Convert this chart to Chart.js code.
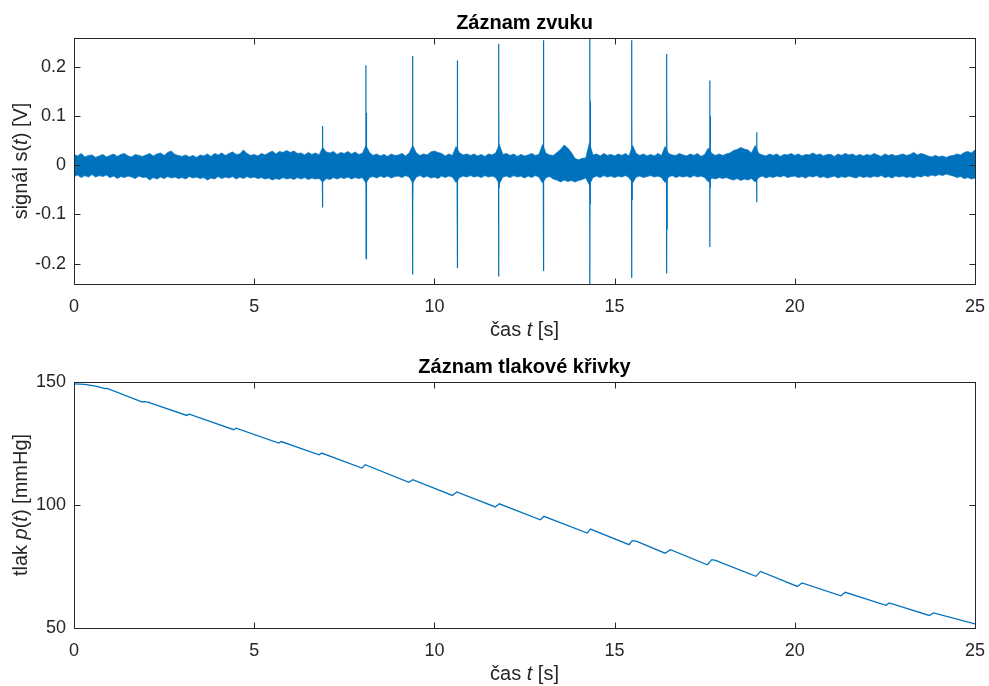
<!DOCTYPE html>
<html>
<head>
<meta charset="utf-8">
<script src="https://cdn.jsdelivr.net/npm/chart.js@4.4.0/dist/chart.umd.min.js"></script>
<style>
    body { margin: 0; background: #fff; }
    .panel { position: absolute; left: 0; width: 989px; height: 343px; }
</style>
</head>
<body>
<div class="panel" style="top:0"><canvas id="soundChart" width="989" height="343"></canvas></div>
<div class="panel" style="top:343px"><canvas id="pressChart" width="989" height="343"></canvas></div>
<script>
//-----------------------------------------------------
// Data (time in s)
//-----------------------------------------------------

// noise band of the sound signal, sampled every 0.1 s from 0 to 25 s [V]
const envStep = 0.1;
const noiseUpper = [
    0.022,0.019,0.024,0.017,0.020,0.021,0.016,0.019,0.022,0.017,
    0.020,0.023,0.018,0.022,0.024,0.019,0.017,0.022,0.020,0.018,
    0.021,0.024,0.019,0.023,0.025,0.020,0.026,0.029,0.022,0.020,
    0.018,0.021,0.017,0.020,0.016,0.021,0.019,0.023,0.018,0.024,
    0.021,0.025,0.020,0.024,0.027,0.022,0.023,0.031,0.024,0.020,
    0.022,0.019,0.024,0.021,0.025,0.029,0.023,0.028,0.026,0.030,
    0.026,0.029,0.024,0.025,0.021,0.026,0.022,0.025,0.021,0.036,
    0.027,0.025,0.028,0.022,0.026,0.024,0.028,0.023,0.027,0.022,
    0.024,0.040,0.026,0.020,0.023,0.019,0.022,0.018,0.023,0.020,
    0.021,0.024,0.019,0.025,0.040,0.025,0.020,0.023,0.021,0.027,
    0.029,0.026,0.024,0.019,0.023,0.020,0.038,0.025,0.021,0.023,
    0.020,0.023,0.019,0.022,0.018,0.023,0.021,0.025,0.042,0.022,
    0.024,0.020,0.023,0.018,0.022,0.019,0.021,0.024,0.020,0.022,
    0.042,0.024,0.021,0.020,0.026,0.032,0.041,0.035,0.026,0.014,
    0.011,0.014,0.015,0.045,0.021,0.023,0.019,0.024,0.020,0.022,
    0.019,0.023,0.020,0.024,0.019,0.040,0.024,0.020,0.023,0.019,
    0.022,0.019,0.024,0.020,0.038,0.024,0.021,0.020,0.024,0.021,
    0.019,0.023,0.020,0.024,0.018,0.022,0.035,0.024,0.020,0.023,
    0.020,0.023,0.025,0.030,0.032,0.036,0.033,0.031,0.025,0.040,
    0.024,0.021,0.019,0.023,0.020,0.023,0.018,0.022,0.021,0.024,
    0.020,0.023,0.019,0.022,0.021,0.025,0.021,0.023,0.019,0.022,
    0.022,0.018,0.023,0.020,0.024,0.021,0.023,0.019,0.022,0.019,
    0.022,0.020,0.024,0.021,0.018,0.023,0.020,0.022,0.019,0.021,
    0.023,0.020,0.022,0.026,0.021,0.024,0.022,0.019,0.017,0.020,
    0.017,0.019,0.016,0.019,0.020,0.023,0.021,0.026,0.028,0.025,
    0.031
];
const noiseLower = [
    -0.023,-0.020,-0.025,-0.021,-0.024,-0.019,-0.024,-0.021,-0.023,-0.020,
    -0.025,-0.022,-0.027,-0.023,-0.025,-0.022,-0.024,-0.027,-0.022,-0.025,
    -0.024,-0.030,-0.025,-0.028,-0.024,-0.027,-0.023,-0.026,-0.024,-0.027,
    -0.025,-0.028,-0.023,-0.026,-0.024,-0.027,-0.025,-0.030,-0.026,-0.028,
    -0.023,-0.027,-0.024,-0.026,-0.023,-0.028,-0.024,-0.027,-0.023,-0.026,
    -0.024,-0.027,-0.025,-0.028,-0.026,-0.030,-0.027,-0.029,-0.025,-0.028,
    -0.026,-0.029,-0.025,-0.028,-0.025,-0.029,-0.026,-0.028,-0.027,-0.034,
    -0.027,-0.029,-0.025,-0.028,-0.025,-0.027,-0.024,-0.028,-0.025,-0.027,
    -0.025,-0.036,-0.025,-0.023,-0.026,-0.022,-0.025,-0.022,-0.026,-0.023,
    -0.022,-0.025,-0.021,-0.024,-0.036,-0.024,-0.021,-0.025,-0.022,-0.026,
    -0.024,-0.027,-0.022,-0.025,-0.022,-0.024,-0.035,-0.025,-0.022,-0.024,
    -0.021,-0.024,-0.022,-0.025,-0.021,-0.024,-0.022,-0.025,-0.038,-0.024,
    -0.022,-0.025,-0.021,-0.024,-0.022,-0.026,-0.022,-0.025,-0.021,-0.024,
    -0.036,-0.025,-0.023,-0.028,-0.030,-0.034,-0.030,-0.033,-0.031,-0.034,
    -0.031,-0.029,-0.026,-0.040,-0.025,-0.022,-0.025,-0.021,-0.024,-0.022,
    -0.025,-0.022,-0.024,-0.021,-0.025,-0.036,-0.024,-0.022,-0.025,-0.023,
    -0.021,-0.024,-0.022,-0.025,-0.035,-0.024,-0.021,-0.025,-0.022,-0.024,
    -0.022,-0.025,-0.021,-0.024,-0.022,-0.025,-0.034,-0.026,-0.028,-0.025,
    -0.027,-0.025,-0.028,-0.030,-0.027,-0.031,-0.028,-0.030,-0.027,-0.034,
    -0.025,-0.022,-0.026,-0.023,-0.025,-0.022,-0.024,-0.021,-0.025,-0.023,
    -0.022,-0.025,-0.023,-0.026,-0.022,-0.024,-0.021,-0.025,-0.023,-0.026,
    -0.024,-0.022,-0.026,-0.023,-0.025,-0.022,-0.024,-0.026,-0.022,-0.025,
    -0.023,-0.025,-0.022,-0.024,-0.021,-0.025,-0.023,-0.026,-0.022,-0.024,
    -0.022,-0.025,-0.023,-0.026,-0.022,-0.024,-0.021,-0.023,-0.020,-0.022,
    -0.019,-0.021,-0.018,-0.020,-0.022,-0.025,-0.023,-0.027,-0.025,-0.028,
    -0.026
];

// heart sound clicks: time, first peak/trough, second (inner) peak/trough [V]
const spikeT   = [6.89, 8.10, 9.39, 10.63, 11.78, 13.02, 14.31, 15.47, 16.44, 17.64, 18.94];
const spikeHi  = [0.080, 0.203, 0.222, 0.213, 0.247, 0.254, 0.275, 0.254, 0.226, 0.172, 0.067];
const spikeLo  = [-0.086, -0.190, -0.222, -0.209, -0.226, -0.215, -0.255, -0.229, -0.220, -0.166, -0.075];
const spikeHi2 = [0.040, 0.106, 0.124, 0.086, 0.116, 0.110, 0.130, 0.110, 0.122, 0.100, 0.030];
const spikeLo2 = [-0.030, -0.070, -0.075, -0.130, -0.045, -0.060, -0.080, -0.070, -0.130, -0.045, -0.025];

// cuff pressure [mmHg]
const presT = [0, 0.3, 0.6, 0.86, 0.92, 1.88, 1.95, 2.05, 3.13, 3.2, 4.43, 4.5, 5.68, 5.75,
    6.8, 6.87, 7.99, 8.08, 9.29, 9.4, 10.5, 10.62, 11.69, 11.8, 12.94, 13.04, 14.24, 14.33,
    15.4, 15.49, 15.6, 16.4, 16.55, 17.57, 17.7, 17.8, 18.92, 19.05, 20.07, 20.2, 21.28, 21.4,
    22.53, 22.62, 23.73, 23.85, 25];
const presP = [149.2, 149.0, 148.3, 147.3, 147.4, 141.9, 142.0, 141.8, 136.4, 136.9, 130.6, 131.2, 125.2, 125.8,
    120.4, 121.1, 115.0, 116.4, 109.2, 110.3, 103.9, 105.3, 99.2, 100.5, 94.0, 95.4, 88.6, 90.2,
    83.9, 85.5, 85.3, 80.4, 81.8, 75.7, 77.8, 77.5, 71.0, 73.0, 66.9, 68.3, 63.1, 64.5,
    59.2, 60.2, 55.1, 56.1, 51.7];

const xTicksStep = 5;
const sigTickStep = 0.1;
const presTickStep = 50;

//-----------------------------------------------------
// Look
//-----------------------------------------------------
const BLUE = '#0072BD';
const AXIS = '#262626';
const FONT = '"Liberation Sans", Arial, sans-serif';
const TICK_LEN = 6;

// MATLAB-like box, inward ticks, title and axis labels with italic parts
function drawRich(ctx, parts, size, cx, cy, rotated) {
    ctx.save();
    ctx.translate(cx, cy);
    if (rotated) ctx.rotate(-Math.PI / 2);
    let total = 0;
    const widths = parts.map(p => {
        ctx.font = (p.i ? 'italic ' : '') + size + 'px ' + FONT;
        const w = ctx.measureText(p.t).width;
        total += w;
        return w;
    });
    let x = -total / 2;
    ctx.textAlign = 'left';
    ctx.textBaseline = 'middle';
    parts.forEach((p, k) => {
        ctx.font = (p.i ? 'italic ' : '') + size + 'px ' + FONT;
        ctx.fillText(p.t, x, 0);
        x += widths[k];
    });
    ctx.restore();
}

const matlabAxes = {
    id: 'matlabAxes',
    afterDraw(chart, args, opts) {
        const ctx = chart.ctx;
        const a = chart.chartArea;
        const xs = chart.scales.x;
        const ys = chart.scales.y;
        ctx.save();
        ctx.strokeStyle = AXIS;
        ctx.lineWidth = 1;
        const L = Math.round(a.left) + 0.5, R = Math.round(a.right) + 0.5;
        const T = Math.round(a.top) + 0.5, B = Math.round(a.bottom) + 0.5;
        ctx.strokeRect(L, T, R - L, B - T);
        ctx.beginPath();
        xs.ticks.forEach(t => {
            const px = Math.round(xs.getPixelForValue(t.value)) + 0.5;
            ctx.moveTo(px, B); ctx.lineTo(px, B - TICK_LEN);
            ctx.moveTo(px, T); ctx.lineTo(px, T + TICK_LEN);
        });
        ys.ticks.forEach(t => {
            const py = Math.round(ys.getPixelForValue(t.value)) + 0.5;
            ctx.moveTo(L, py); ctx.lineTo(L + TICK_LEN, py);
            ctx.moveTo(R, py); ctx.lineTo(R - TICK_LEN, py);
        });
        ctx.stroke();

        const cx = (a.left + a.right) / 2;
        ctx.fillStyle = '#000';
        ctx.font = 'bold 20px ' + FONT;
        ctx.textAlign = 'center';
        ctx.textBaseline = 'middle';
        ctx.fillText(opts.title, cx, a.top - 15);

        ctx.fillStyle = AXIS;
        drawRich(ctx, opts.xLabel, 20, cx, a.bottom + 46, false);
        drawRich(ctx, opts.yLabel, 20, 21, (a.top + a.bottom) / 2, true);
        ctx.restore();
    }
};

function baseOptions(padTop, xHeight, yMin, yMax, yStep, fmt, labels) {
    return {
        responsive: false,
        animation: false,
        layout: { padding: { top: padTop, right: 14, left: 0, bottom: 0 } },
        plugins: {
            legend: { display: false },
            tooltip: { enabled: false },
            matlabAxes: labels
        },
        scales: {
            x: {
                type: 'linear',
                min: 0,
                max: 25,
                grid: { display: false, drawTicks: false },
                border: { display: false },
                ticks: { stepSize: xTicksStep, padding: 12, color: AXIS, font: { family: FONT, size: 18 }, maxRotation: 0 },
                afterFit: s => { s.height = xHeight; s.paddingLeft = 0; s.paddingRight = 0; }
            },
            y: {
                min: yMin,
                max: yMax,
                grid: { display: false, drawTicks: false },
                border: { display: false },
                ticks: { stepSize: yStep, includeBounds: false, padding: 8, color: AXIS,
                         font: { family: FONT, size: 18 }, callback: fmt },
                afterFit: s => { s.width = 74; s.paddingTop = 0; s.paddingBottom = 0; }
            }
        }
    };
}

//-----------------------------------------------------
// Sound record
//-----------------------------------------------------
const upperPts = noiseUpper.map((v, i) => ({ x: i * envStep, y: v }));
const lowerPts = noiseLower.map((v, i) => ({ x: i * envStep, y: v }));

const spikePts = [];
spikeT.forEach((t, k) => {
    spikePts.push({ x: t, y: 0 });
    spikePts.push({ x: t, y: spikeHi[k] });
    spikePts.push({ x: t + 0.005, y: spikeLo[k] });
    spikePts.push({ x: t + 0.01, y: spikeHi2[k] });
    spikePts.push({ x: t + 0.015, y: spikeLo2[k] });
    spikePts.push({ x: t + 0.02, y: 0 });
    spikePts.push({ x: t + 0.03, y: null });
});

new Chart(document.getElementById('soundChart'), {
    type: 'line',
    data: {
        datasets: [
            { data: upperPts, borderColor: 'rgba(0,114,189,0.7)', borderWidth: 1, pointRadius: 0, fill: false, order: 1 },
            { data: lowerPts, borderColor: 'rgba(0,114,189,0.7)', borderWidth: 1, pointRadius: 0, fill: '-1', backgroundColor: BLUE, order: 1 },
            { data: spikePts, borderColor: BLUE, borderWidth: 1.2, pointRadius: 0, fill: false, spanGaps: false, order: 0 }
        ]
    },
    options: baseOptions(38, 59, -0.2413, 0.2586, sigTickStep,
        v => String(Math.round(v * 10) / 10),
        {
            title: 'Záznam zvuku',
            xLabel: [{ t: 'čas ' }, { t: 't', i: true }, { t: ' [s]' }],
            yLabel: [{ t: 'signál s(' }, { t: 't', i: true }, { t: ') [V]' }]
        }),
    plugins: [matlabAxes]
});

//-----------------------------------------------------
// Pressure record
//-----------------------------------------------------
new Chart(document.getElementById('pressChart'), {
    type: 'line',
    data: {
        datasets: [{
            data: presT.map((t, i) => ({ x: t, y: presP[i] })),
            borderColor: BLUE,
            borderWidth: 1.3,
            pointRadius: 0,
            fill: false
        }]
    },
    options: baseOptions(39, 58, 50, 150, presTickStep,
        v => String(v),
        {
            title: 'Záznam tlakové křivky',
            xLabel: [{ t: 'čas ' }, { t: 't', i: true }, { t: ' [s]' }],
            yLabel: [{ t: 'tlak ' }, { t: 'p', i: true }, { t: '(' }, { t: 't', i: true }, { t: ') [mmHg]' }]
        }),
    plugins: [matlabAxes]
});
</script>
</body>
</html>
